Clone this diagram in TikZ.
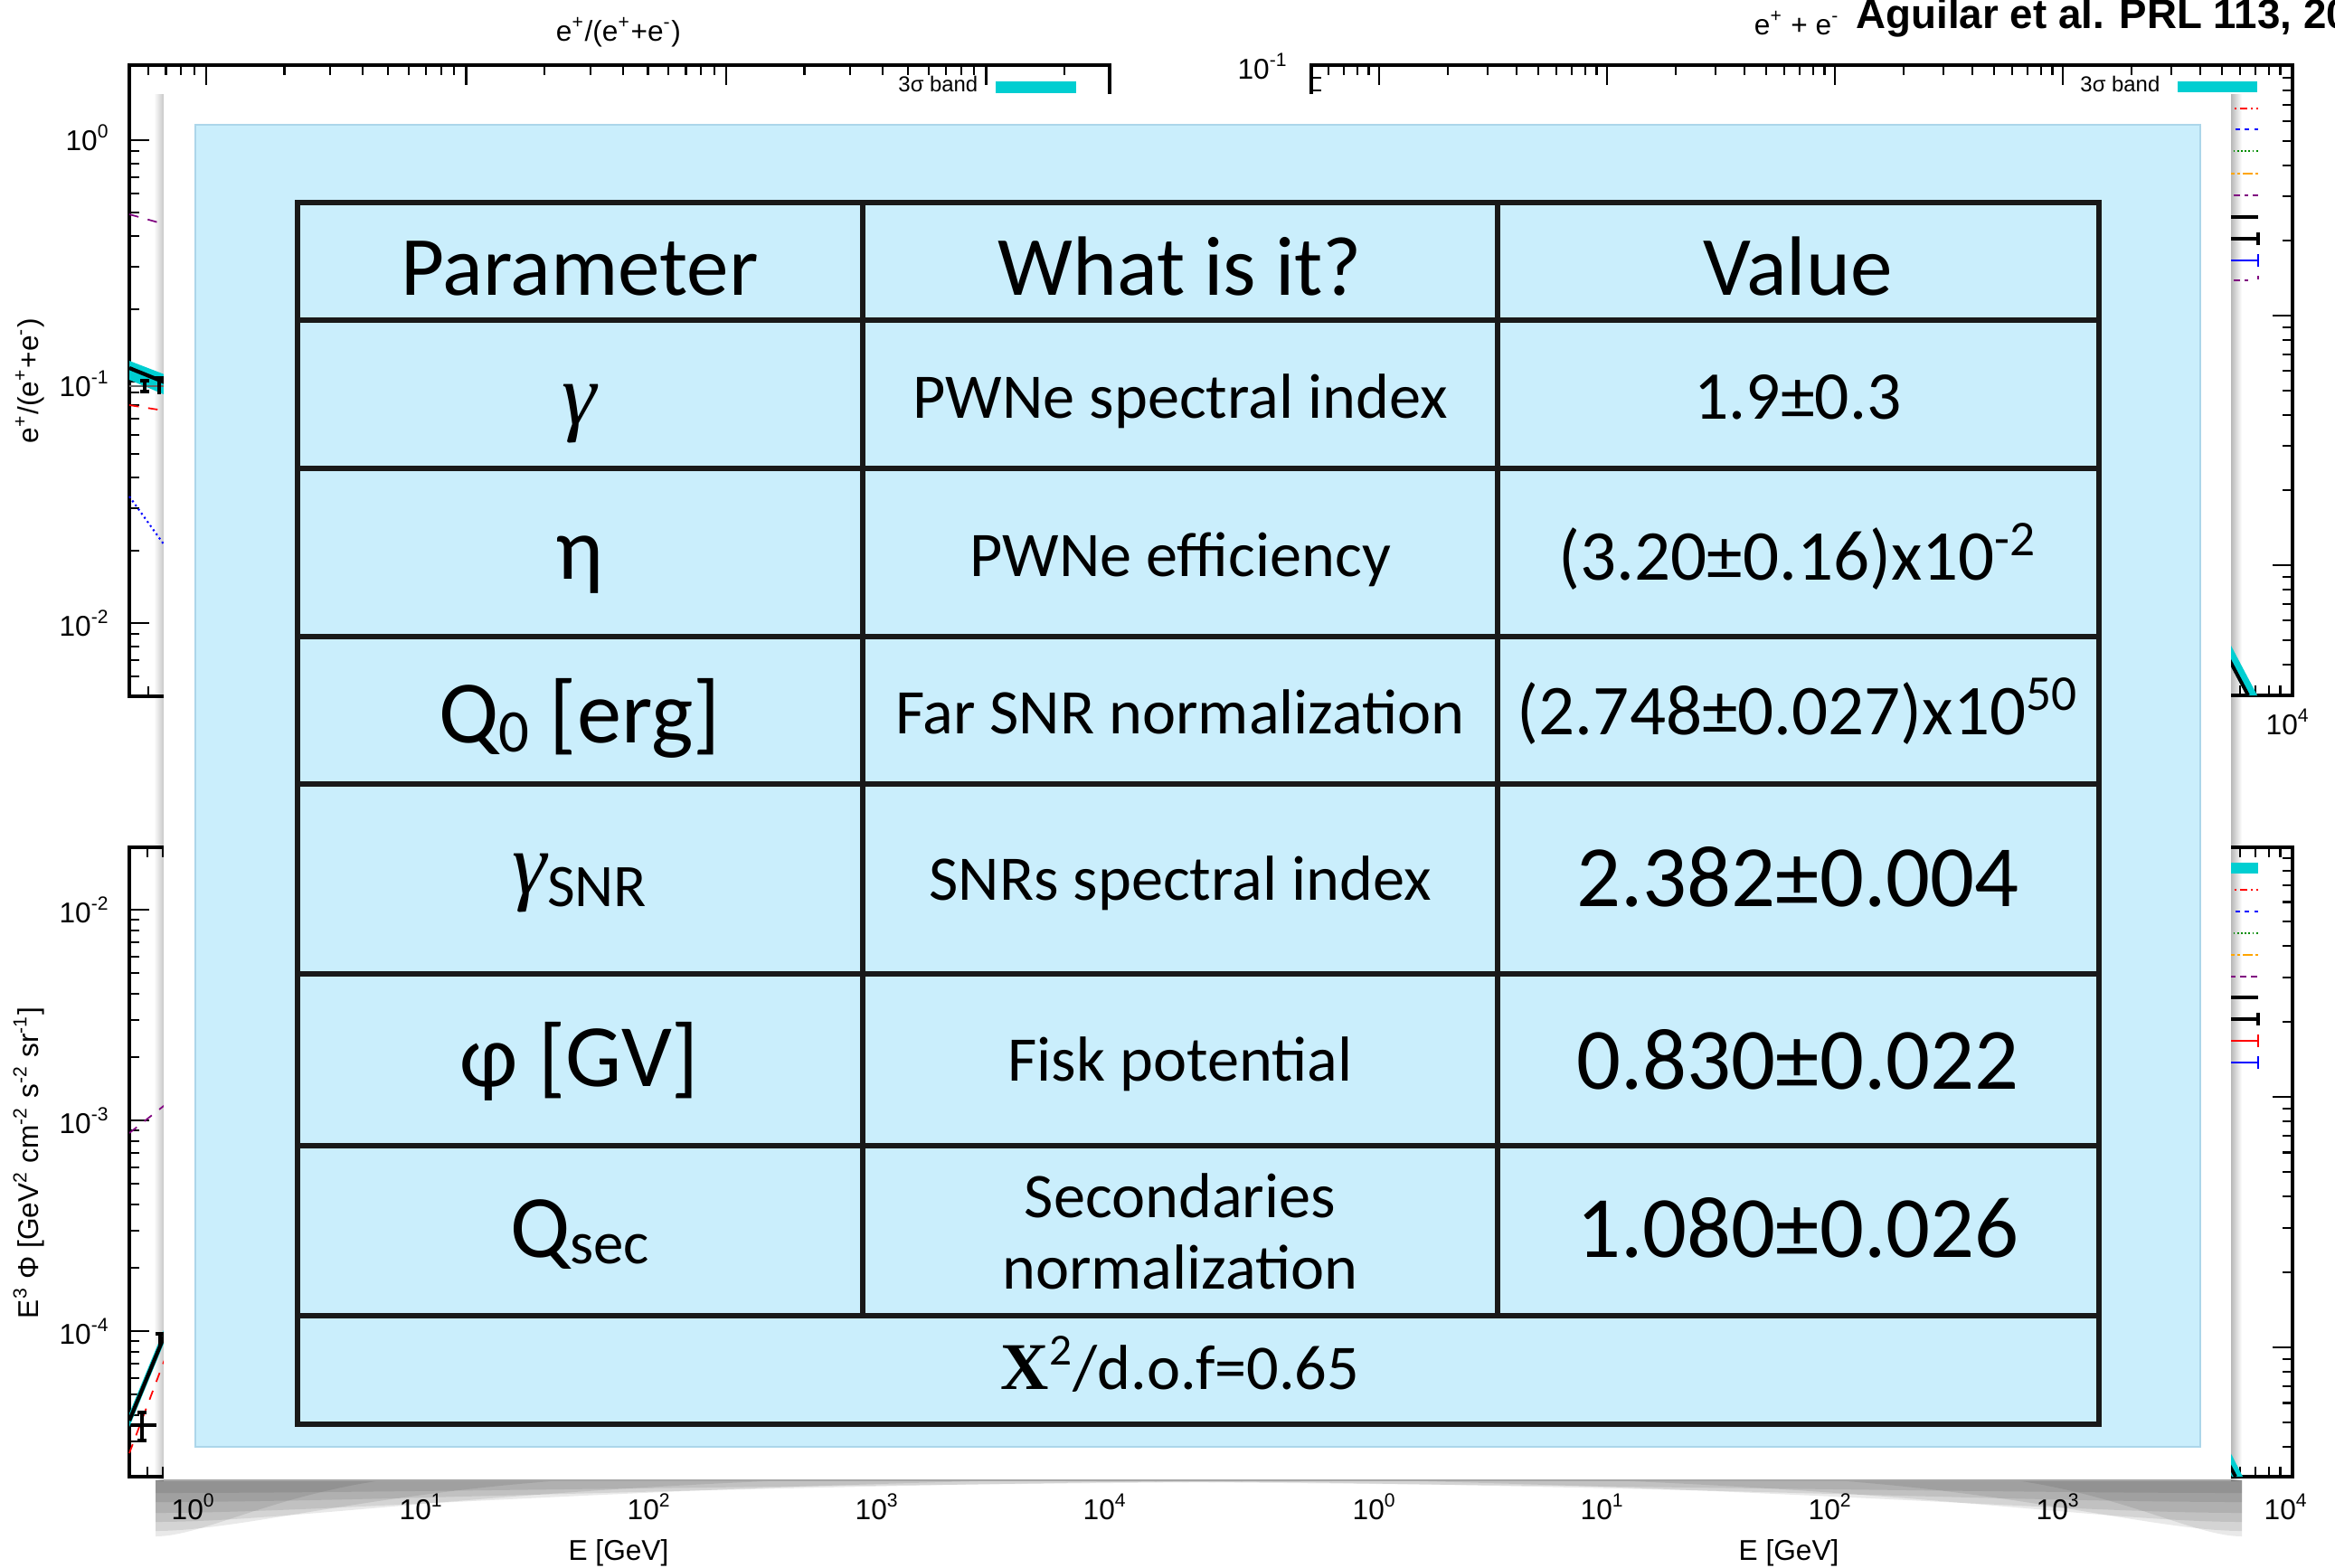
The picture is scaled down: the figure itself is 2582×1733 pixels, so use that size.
\documentclass[tikz,border=0pt]{standalone}
\usepackage{fontspec}
\setmainfont{Carlito}
\newfontfamily\plotfont{Liberation Sans}
\newfontfamily\timesfont{Liberation Serif}

\definecolor{bandcyan}{RGB}{0,206,209}
\definecolor{boxblue}{RGB}{202,238,252}
\definecolor{boxedge}{RGB}{172,214,234}
\definecolor{plotpurple}{RGB}{128,0,128}
\definecolor{plotgreen}{RGB}{0,140,0}
\definecolor{plotorange}{RGB}{255,165,0}

% log ticks along a horizontal axis: origin, px per decade, y, xmin, xmax, direction
\newcommand{\hticks}[6]{%
  \foreach \d in {-1,...,4}{\foreach \k in {1,...,9}{%
    \pgfmathsetmacro{\tx}{#1+#2*(\d+log10(\k))}%
    \pgfmathsetmacro{\tl}{#6*(\k==1 ? 22 : 11)}%
    \ifdim\tx pt>#4pt\relax\ifdim\tx pt<#5pt\relax
      \draw[axtick] (\tx,#3) -- ++(0,\tl);
    \fi\fi}}}
% log ticks along a vertical axis: y of 10^0, px per decade, x, ymin, ymax, direction
\newcommand{\vticks}[6]{%
  \foreach \d in {-6,...,1}{\foreach \k in {1,...,9}{%
    \pgfmathsetmacro{\ty}{#1-#2*(\d+log10(\k))}%
    \pgfmathsetmacro{\tl}{#6*(\k==1 ? 22 : 11)}%
    \ifdim\ty pt>#4pt\relax\ifdim\ty pt<#5pt\relax
      \draw[axtick] (#3,\ty) -- ++(\tl,0);
    \fi\fi}}}

\begin{document}
\begin{tikzpicture}[
    x=0.1mm, y=-0.1mm,
    axline/.style={line width=0.9pt},
    axtick/.style={line width=0.6pt},
    ticklab/.style={font=\plotfont\fontsize{9}{9}\selectfont, inner sep=0pt},
    smalllab/.style={font=\plotfont\fontsize{6.8}{6.8}\selectfont, inner sep=0pt},
    legline/.style={line width=0.6pt},
    capline/.style={line width=0.9pt},
    shadowlayer/.style={black, fill opacity=0.085},
    tabline/.style={line width=1.6pt, black!90},
    hdr/.style={font=\fontsize{26.5}{26.5}\selectfont, anchor=mid, inner sep=0pt},
    cell/.style={font=\fontsize{20}{20}\selectfont, anchor=mid, inner sep=0pt},
    valmid/.style={font=\fontsize{22.5}{22.5}\selectfont, anchor=mid, inner sep=0pt},
    valbig/.style={font=\fontsize{27.5}{27.5}\selectfont, anchor=mid, inner sep=0pt},
    parcell/.style={font=\fontsize{28}{28}\selectfont, anchor=mid, inner sep=0pt}
]
    \fill[white] (0,0) rectangle (2582,1733);
    \useasboundingbox (0,0) rectangle (2582,1733);

    % shadow of the panel: side strips and layered corners
    \shade[left color=white, right color=black!22] (170,104) rectangle (181,1637);
    \shade[left color=black!28, right color=white] (2467,104) rectangle (2479,1637);
    \foreach \w/\dd in {250/62, 450/56, 700/46, 950/36, 1200/24, 1450/14}{
        \fill[shadowlayer] (172,1637) -- ({172+\w},1637)
            .. controls ({172+0.5*\w},{1637+0.3*\dd}) and ({172+0.2*\w},{1637+\dd}) .. (172,{1637+\dd}) -- cycle;
        \fill[shadowlayer] (2479,1637) -- ({2479-\w},1637)
            .. controls ({2479-0.5*\w},{1637+0.3*\dd}) and ({2479-0.2*\w},{1637+\dd}) .. (2479,{1637+\dd}) -- cycle;
    }

    % top left plot
    \draw[axline] (143,72) rectangle (1227,770);
    \hticks{228}{287.5}{72}{145}{1225}{1}
    \hticks{228}{287.5}{770}{145}{1225}{-1}
    \vticks{155}{267}{143}{80}{768}{1}
    \vticks{155}{267}{1227}{80}{768}{-1}
    \draw[plotpurple, dashed, line width=0.5pt] (143,237) -- (200,253);
    \fill[bandcyan] (143,399) -- (200,421) -- (200,444) -- (143,420) -- cycle;
    \draw[line width=1.2pt] (143,407) -- (200,430);
    \draw[black!60, line width=0.5pt] (143,427) -- (183,427);
    \draw[capline] (160,421) -- (160,433) (155,421) -- (165,421) (155,433) -- (165,433);
    \draw[capline] (176,418) -- (176,436) (171,418) -- (181,418);
    \draw[red, dashed, line width=0.5pt] (143,448) -- (200,457);
    \draw[blue, densely dotted, line width=0.6pt] (143,549) -- (200,628);
    \node[smalllab, anchor=base east] (tlband) at (1082,101) {3σ band};
    \fill[bandcyan] (1101,90) rectangle (1190,103);
    \node[ticklab, anchor=base east] (tly0) at (122,166) {10\textsuperscript{0}};
    \node[ticklab, anchor=base east] (tly1) at (122,438) {10\textsuperscript{-1}};
    \node[ticklab, anchor=base east] (tly2) at (122,703) {10\textsuperscript{-2}};
    \node[ticklab, rotate=90] (tlylab) at (33,421) {e\textsuperscript{+}/(e\textsuperscript{+}+e\textsuperscript{-})};
    \node[ticklab, anchor=base] (tltitle) at (684,45) {e\textsuperscript{+}/(e\textsuperscript{+}+e\textsuperscript{-})};

    % top right plot
    \draw[axline] (1450,72) rectangle (2535,769);
    \hticks{1525}{252}{72}{1452}{2533}{1}
    \hticks{1525}{252}{769}{1452}{2533}{-1}
    \vticks{-203}{276}{1450}{76}{767}{1}
    \vticks{-203}{276}{2535}{76}{767}{-1}
    \fill[bandcyan] (2436,678) -- (2448,678) -- (2496,769) -- (2484,769) -- cycle;
    \draw[line width=1.1pt] (2442,686) -- (2486,769);
    \node[smalllab, anchor=base east] (trband) at (2389,101) {3σ band};
    \fill[bandcyan] (2408,90) rectangle (2496,102);
    \draw[legline, red, dash pattern=on 2.5pt off 1pt on 0.7pt off 1pt] (2440,120) -- (2497,120);
    \draw[legline, blue, dash pattern=on 1.5pt off 1.5pt] (2440,143) -- (2497,143);
    \draw[legline, plotgreen, dash pattern=on 0.5pt off 0.7pt] (2440,167) -- (2497,167);
    \draw[legline, plotorange, dash pattern=on 3pt off 1pt on 0.7pt off 1pt] (2440,192) -- (2497,192);
    \draw[legline, plotpurple, dash pattern=on 1pt off 1.5pt on 2pt off 1.5pt] (2440,216) -- (2497,216);
    \draw[capline] (2440,240) -- (2497,240);
    \draw[capline] (2440,264) -- (2497,264) (2497,257) -- (2497,271);
    \draw[legline, blue] (2440,288) -- (2497,288) (2497,281) -- (2497,295);
    \draw[legline, plotpurple, dash pattern=on 1pt off 1.5pt on 2pt off 1.5pt] (2440,310) -- (2488,310) (2497,305) -- (2497,312);
    \node[ticklab, anchor=base east] (try1) at (1425,87) {10\textsuperscript{-1}};
    \node[ticklab, anchor=base] (trx4) at (2530,812) {10\textsuperscript{4}};
    \node[ticklab, anchor=base] (trtitle) at (1987,38) {e\textsuperscript{+} + e\textsuperscript{-}};
    \node[font=\plotfont\bfseries\fontsize{13}{13}\selectfont, anchor=base west, inner sep=0pt] (aguilar) at (2052,31) {Aguilar et al. PRL 113, 20};

    % bottom left plot
    \draw[axline] (143,937) rectangle (1227,1633);
    \hticks{219}{252}{937}{145}{1225}{1}
    \hticks{219}{252}{1633}{145}{1225}{-1}
    \vticks{540}{233}{143}{940}{1631}{1}
    \vticks{540}{233}{1227}{940}{1631}{-1}
    \draw[plotpurple, dashed, line width=0.5pt] (143,1253) -- (200,1208);
    \fill[bandcyan] (143,1563) -- (200,1425) -- (200,1440) -- (143,1578) -- cycle;
    \draw[line width=1.2pt] (143,1571) -- (200,1433);
    \draw[red, dashed, line width=0.5pt] (143,1607) -- (200,1456);
    \draw[capline] (157,1562) -- (157,1593) (152,1562) -- (162,1562) (152,1593) -- (162,1593) (145,1576) -- (173,1576);
    \draw[capline] (177,1475) -- (177,1488) (172,1475) -- (182,1475);
    \node[ticklab, anchor=base east] (bly2) at (122,1020) {10\textsuperscript{-2}};
    \node[ticklab, anchor=base east] (bly3) at (122,1253) {10\textsuperscript{-3}};
    \node[ticklab, anchor=base east] (bly4) at (122,1486) {10\textsuperscript{-4}};
    \node[ticklab, rotate=90] (blylab) at (32,1286) {E\textsuperscript{3} Φ [GeV\textsuperscript{2} cm\textsuperscript{-2} s\textsuperscript{-2} sr\textsuperscript{-1}]};
    \foreach \e in {0,...,4}
        \node[ticklab, anchor=base] (blx\e) at ({214+252*\e},1680) {10\textsuperscript{\e}};
    \node[ticklab, anchor=base] (blxlab) at (684,1725) {E [GeV]};

    % bottom right plot
    \draw[axline] (1450,937) rectangle (2535,1633);
    \hticks{1525}{252}{937}{1452}{2533}{1}
    \hticks{1525}{252}{1633}{1452}{2533}{-1}
    \vticks{382}{277}{1450}{940}{1631}{1}
    \vticks{382}{277}{2535}{940}{1631}{-1}
    \fill[bandcyan] (2446,1590) -- (2458,1590) -- (2480,1633) -- (2468,1633) -- cycle;
    \draw[line width=1.1pt] (2452,1596) -- (2472,1633);
    \fill[bandcyan] (2440,954) rectangle (2497,966);
    \draw[legline, red, dash pattern=on 2.5pt off 1pt on 0.7pt off 1pt] (2440,984) -- (2497,984);
    \draw[legline, blue, dash pattern=on 1.5pt off 1.5pt] (2440,1008) -- (2497,1008);
    \draw[legline, plotgreen, dash pattern=on 0.5pt off 0.7pt] (2440,1032) -- (2497,1032);
    \draw[legline, plotorange, dash pattern=on 3pt off 1pt on 0.7pt off 1pt] (2440,1056) -- (2497,1056);
    \draw[legline, plotpurple, dash pattern=on 2pt off 1.5pt] (2440,1080) -- (2497,1080);
    \draw[capline] (2440,1103) -- (2497,1103);
    \draw[capline] (2440,1127) -- (2497,1127) (2497,1120) -- (2497,1134);
    \draw[legline, red] (2440,1151) -- (2497,1151) (2497,1144) -- (2497,1158);
    \draw[legline, blue] (2440,1175) -- (2497,1175) (2497,1168) -- (2497,1182);
    \foreach \e in {0,...,4}
        \node[ticklab, anchor=base] (brx\e) at ({1520+252*\e},1680) {10\textsuperscript{\e}};
    \node[ticklab, anchor=base] (brxlab) at (1978,1725) {E [GeV]};

    % panel with the table
    \fill[white] (181,104) rectangle (2467,1637);
    \draw[black!35, line width=0.4pt] (181,1637) -- (2467,1637);
    \fill[boxblue, draw=boxedge, line width=0.5pt] (216,138) rectangle (2433,1600);

    \draw[tabline] (329,224) rectangle (2321,1575);
    \foreach \ry in {354,518,704,867,1077,1267,1455}
        \draw[tabline] (329,\ry) -- (2321,\ry);
    \draw[tabline] (954,224) -- (954,1455);
    \draw[tabline] (1656,224) -- (1656,1455);

    \node[hdr] (hpar) at (641,318) {Parameter};
    \node[hdr] (hwhat) at (1305,318) {What is it?};
    \node[hdr] (hval) at (1988,318) {Value};

    \node[parcell] (pgamma) at (641,461) {{\timesfont\itshape\fontsize{27.5}{27.5}\selectfont γ}};
    \node[cell] (wgamma) at (1305,454) {PWNe spectral index};
    \node[valmid, font=\fontsize{21.5}{21.5}\selectfont] (vgamma) at (1988,455) {1.9±0.3};

    \node[parcell] (peta) at (641,632) {η};
    \node[cell] (weta) at (1305,629) {PWNe efficiency};
    \node[valmid] (veta) at (1988,633) {(3.20±0.16)x10\textsuperscript{-2}};

    \node[parcell] (pq) at (641,813) {Q\raisebox{-3pt}{\fontsize{19}{19}\selectfont 0} [erg]};
    \node[cell] (wq) at (1305,803) {Far SNR normalization};
    \node[valmid] (vq) at (1988,804) {(2.748±0.027)x10\textsuperscript{50}};

    \node[parcell] (psnr) at (641,980) {{\timesfont\itshape\fontsize{27.5}{27.5}\selectfont γ}\raisebox{-4pt}{\fontsize{19}{19}\selectfont SNR}};
    \node[cell] (wsnr) at (1305,987) {SNRs spectral index};
    \node[valbig] (vsnr) at (1988,994) {2.382±0.004};

    \node[parcell] (pphi) at (641,1193) {φ [GV]};
    \node[cell] (wphi) at (1305,1187) {Fisk potential};
    \node[valbig] (vphi) at (1988,1196) {0.830±0.022};

    \node[parcell] (psec) at (641,1382) {Q\raisebox{-2pt}{\fontsize{19}{19}\selectfont sec}};
    \node[cell, font=\fontsize{20}{22.5}\selectfont, align=center, anchor=center] (wsec) at (1305,1362) {Secondaries\\normalization};
    \node[valbig] (vsec) at (1988,1382) {1.080±0.026};

    \node[cell] (chisq) at (1305,1528) {{\timesfont\bfseries\fontsize{21}{21}\selectfont X}\textsuperscript{2}/d.o.f=0.65};
\end{tikzpicture}
\end{document}
